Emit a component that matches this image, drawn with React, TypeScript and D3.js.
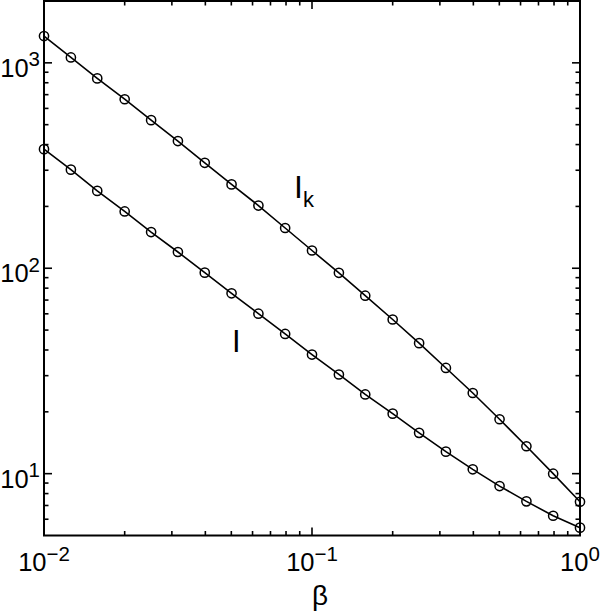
import React from "react";
import * as d3 from "d3";

const betaValues = [0.01, 0.0126, 0.0158, 0.02, 0.0251, 0.0316, 0.0398, 0.0501, 0.0631, 0.0794, 0.1, 0.126, 0.158, 0.2, 0.251, 0.316, 0.398, 0.501, 0.631, 0.794, 1];
const ikValues = [1350, 1062, 840, 665, 526, 416, 326, 256, 202, 157, 122, 95, 73.5, 56.3, 43.2, 32.7, 24.7, 18.4, 13.6, 10.0, 7.3];
const iValues = [380, 302, 238, 189, 150, 120, 95.2, 75.5, 60.1, 47.9, 38.0, 30.4, 24.3, 19.6, 15.8, 12.8, 10.5, 8.7, 7.33, 6.24, 5.46];
const xMajorTicks = [0.01, 0.1, 1];
const xTickExponents = ["−2", "−1", "0"];
const yMajorTicks = [10, 100, 1000];
const yTickExponents = ["1", "2", "3"];

const W = 600;
const H = 614;
const left = 44;
const right = 580;
const top = 1;
const bottom = 535.5;
const FONT = "'Liberation Sans', Arial, Helvetica, sans-serif";

export default function App() {
  const x = d3.scaleLog().domain([0.01, 1]).range([left, right]);
  const y = d3.scaleLog().domain([5, 2000]).range([bottom, top]);

  const xMinor: number[] = [];
  [0.01, 0.1].forEach((d) => {
    for (let k = 2; k <= 9; k++) xMinor.push(d * k);
  });
  const yMinor: number[] = [];
  [1, 10, 100, 1000].forEach((d) => {
    for (let k = 2; k <= 9; k++) {
      const v = d * k;
      if (v > 5 && v < 2000) yMinor.push(v);
    }
  });

  const line = d3
    .line<number>()
    .x((_, i) => x(betaValues[i]))
    .y((d) => y(d));

  const series = [ikValues, iValues];

  return (
    <svg
      width={W}
      height={H}
      style={{ position: "absolute", left: 0, top: 0, background: "#fff" }}
      fontFamily={FONT}
    >
      <rect x={0} y={0} width={W} height={H} fill="#fff" />
      {series.map((s, si) => (
        <g key={si}>
          <path d={line(s) || ""} fill="none" stroke="#000" strokeWidth={1.6} />
          {s.map((v, i) => (
            <circle
              key={i}
              cx={x(betaValues[i])}
              cy={y(v)}
              r={4.6}
              fill="none"
              stroke="#000"
              strokeWidth={1.5}
            />
          ))}
        </g>
      ))}

      {/* ticks */}
      {xMajorTicks.map((t) => (
        <g key={"xM" + t}>
          <line x1={x(t)} x2={x(t)} y1={bottom} y2={bottom - 8} stroke="#000" strokeWidth={1.6} />
          <line x1={x(t)} x2={x(t)} y1={top} y2={top + 8} stroke="#000" strokeWidth={1.6} />
        </g>
      ))}
      {xMinor.map((t) => (
        <g key={"xm" + t}>
          <line x1={x(t)} x2={x(t)} y1={bottom} y2={bottom - 4.5} stroke="#000" strokeWidth={1.6} />
          <line x1={x(t)} x2={x(t)} y1={top} y2={top + 4.5} stroke="#000" strokeWidth={1.6} />
        </g>
      ))}
      {yMajorTicks.map((t) => (
        <g key={"yM" + t}>
          <line x1={left} x2={left + 8} y1={y(t)} y2={y(t)} stroke="#000" strokeWidth={1.6} />
          <line x1={right} x2={right - 8} y1={y(t)} y2={y(t)} stroke="#000" strokeWidth={1.6} />
        </g>
      ))}
      {yMinor.map((t) => (
        <g key={"ym" + t}>
          <line x1={left} x2={left + 4.5} y1={y(t)} y2={y(t)} stroke="#000" strokeWidth={1.6} />
          <line x1={right} x2={right - 4.5} y1={y(t)} y2={y(t)} stroke="#000" strokeWidth={1.6} />
        </g>
      ))}

      {/* frame */}
      <rect
        x={left}
        y={top}
        width={right - left}
        height={bottom - top}
        fill="none"
        stroke="#000"
        strokeWidth={2}
      />

      {/* x tick labels */}
      {xMajorTicks.map((t, i) => (
        <text key={"xl" + t} x={x(t)} y={571} textAnchor="middle" fontSize={25.5} fill="#000">
          <tspan>10</tspan>
          <tspan fontSize={20.5} dy={-10.5}>{xTickExponents[i]}</tspan>
        </text>
      ))}
      {/* y tick labels */}
      {yMajorTicks.map((t, i) => (
        <text key={"yl" + t} x={40} y={y(t) + 14} textAnchor="end" fontSize={25.5} fill="#000">
          <tspan>10</tspan>
          <tspan fontSize={20.5} dy={-10.5}>{yTickExponents[i]}</tspan>
        </text>
      ))}

      {/* axis title */}
      <text x={320} y={605} textAnchor="middle" fontSize={28} fill="#000">β</text>

      {/* series labels */}
      <text x={294} y={198} fontSize={32} fill="#000">
        <tspan>I</tspan>
        <tspan fontSize={22} dy={9}>k</tspan>
      </text>
      <text x={232} y={352} fontSize={31} fill="#000">I</text>
    </svg>
  );
}
